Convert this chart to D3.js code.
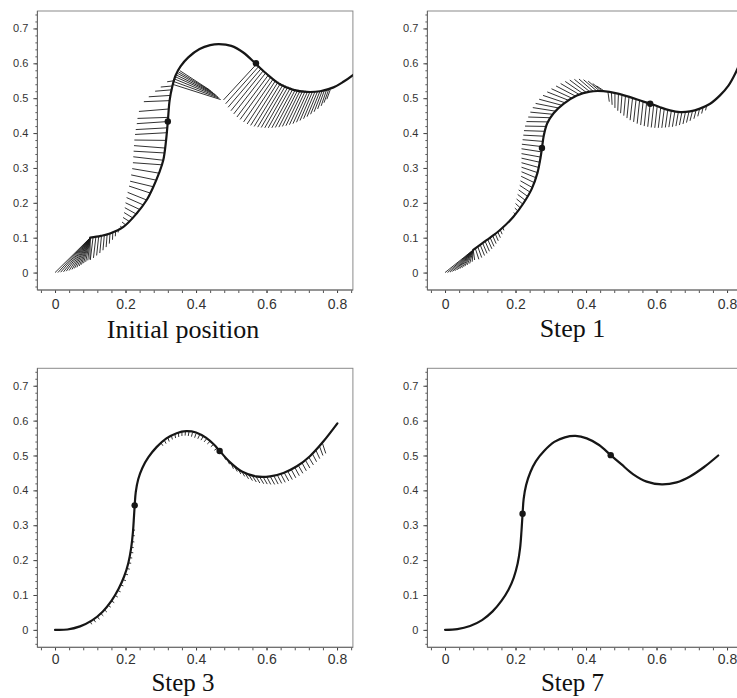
<!DOCTYPE html>
<meta charset="utf-8">
<style>
body { margin: 0; background: #fff; }
svg { font-family: "Liberation Sans", Arial, sans-serif; }
.title { font-family: "Liberation Serif", "Times New Roman", serif; fill: #111; }
</style>
<svg width="737" height="698"></svg>
<script src="https://cdn.jsdelivr.net/npm/d3@7"></script>
<script>
// tick labels
var xMajor = [0, 0.2, 0.4, 0.6, 0.8];
var yMajor = [0, 0.1, 0.2, 0.3, 0.4, 0.5, 0.6, 0.7];
var titles = ["Initial position", "Step 1", "Step 3", "Step 7"];

// rod shape in each panel [x, y]
var curve0 = [[0.100,0.100],[0.130,0.105],[0.156,0.112],[0.194,0.131],[0.232,0.170],[0.260,0.208],[0.279,0.246],[0.295,0.285],[0.307,0.322],[0.315,0.379],[0.320,0.433],[0.325,0.493],[0.333,0.535],[0.342,0.565],[0.356,0.591],[0.378,0.617],[0.410,0.641],[0.440,0.652],[0.465,0.655],[0.500,0.650],[0.534,0.631],[0.570,0.598],[0.600,0.570],[0.638,0.540],[0.676,0.524],[0.714,0.518],[0.752,0.520],[0.790,0.531],[0.818,0.547],[0.845,0.566],[0.870,0.588]];
var curve1 = [[0.080,0.065],[0.118,0.093],[0.156,0.122],[0.194,0.160],[0.222,0.198],[0.246,0.240],[0.262,0.285],[0.271,0.330],[0.275,0.357],[0.280,0.392],[0.290,0.428],[0.308,0.457],[0.336,0.484],[0.374,0.508],[0.411,0.519],[0.449,0.520],[0.487,0.514],[0.525,0.503],[0.563,0.490],[0.584,0.484],[0.610,0.474],[0.638,0.465],[0.667,0.460],[0.695,0.462],[0.723,0.470],[0.752,0.484],[0.780,0.508],[0.804,0.536],[0.823,0.570],[0.840,0.610]];
var curve3 = [[0.000,0.000],[0.035,0.001],[0.071,0.010],[0.105,0.027],[0.135,0.052],[0.160,0.083],[0.180,0.117],[0.196,0.153],[0.208,0.192],[0.216,0.235],[0.221,0.280],[0.224,0.325],[0.226,0.357],[0.229,0.395],[0.236,0.432],[0.248,0.465],[0.265,0.495],[0.288,0.524],[0.316,0.549],[0.345,0.564],[0.372,0.570],[0.400,0.566],[0.428,0.551],[0.450,0.532],[0.468,0.512],[0.496,0.481],[0.530,0.454],[0.570,0.440],[0.610,0.440],[0.648,0.450],[0.686,0.469],[0.723,0.498],[0.761,0.540],[0.801,0.592]];
var curve7 = [[0.000,0.000],[0.035,0.002],[0.071,0.011],[0.105,0.028],[0.135,0.053],[0.160,0.083],[0.180,0.115],[0.195,0.150],[0.206,0.190],[0.213,0.235],[0.217,0.285],[0.220,0.333],[0.223,0.375],[0.230,0.415],[0.242,0.452],[0.258,0.484],[0.281,0.513],[0.310,0.539],[0.340,0.552],[0.370,0.556],[0.402,0.549],[0.437,0.530],[0.470,0.501],[0.500,0.475],[0.534,0.446],[0.572,0.425],[0.615,0.417],[0.657,0.423],[0.695,0.440],[0.735,0.467],[0.775,0.500]];

// marked points
var dots0 = [[0.320,0.433],[0.570,0.600]];
var dots1 = [[0.275,0.357],[0.582,0.484]];
var dots3 = [[0.226,0.357],[0.467,0.513]];
var dots7 = [[0.220,0.333],[0.470,0.501]];

// displacement hatches [x from, y from, x to, y to]
var hatch0 = [
  [0.1,0.1,0.000,0.000],[0.1,0.1,0.008,0.000],[0.1,0.1,0.016,0.001],[0.1,0.1,0.024,0.002],[0.1,0.1,0.032,0.004],
  [0.1,0.1,0.040,0.006],[0.1,0.1,0.048,0.009],[0.1,0.1,0.055,0.012],[0.1,0.1,0.062,0.015],[0.1,0.1,0.069,0.019],
  [0.1,0.1,0.075,0.023],[0.1,0.1,0.081,0.027],[0.1,0.1,0.087,0.031],[0.1,0.1,0.093,0.035],[0.1,0.1,0.099,0.038],
  [0.108,0.102,0.100,0.036],[0.116,0.103,0.109,0.042],[0.124,0.105,0.118,0.049],[0.132,0.107,0.127,0.056],
  [0.140,0.109,0.136,0.064],[0.148,0.111,0.145,0.073],[0.156,0.114,0.154,0.083],[0.164,0.117,0.163,0.094],
  [0.172,0.121,0.171,0.104],[0.180,0.125,0.179,0.115],
  [0.190,0.129,0.185,0.133],[0.200,0.137,0.190,0.145],[0.210,0.147,0.193,0.158],[0.220,0.157,0.196,0.172],
  [0.230,0.168,0.198,0.186],[0.240,0.181,0.200,0.200],[0.250,0.194,0.203,0.215],[0.260,0.208,0.206,0.230],
  [0.270,0.228,0.210,0.248],[0.279,0.246,0.213,0.262],[0.287,0.265,0.216,0.280],[0.295,0.285,0.219,0.298],
  [0.303,0.309,0.221,0.315],[0.307,0.322,0.222,0.332],[0.310,0.343,0.223,0.348],[0.312,0.357,0.224,0.364],
  [0.315,0.379,0.225,0.380],[0.317,0.401,0.227,0.396],[0.318,0.415,0.229,0.410],[0.320,0.433,0.232,0.427],
  [0.321,0.445,0.234,0.442],[0.323,0.469,0.238,0.462],[0.325,0.493,0.252,0.490],[0.328,0.508,0.266,0.504],
  [0.331,0.524,0.284,0.520],[0.333,0.535,0.300,0.532],[0.337,0.550,0.318,0.547],
  [0.333,0.540,0.470,0.496],[0.336,0.548,0.466,0.500],[0.339,0.555,0.462,0.504],[0.342,0.561,0.458,0.508],
  [0.345,0.566,0.453,0.512],[0.348,0.571,0.448,0.516],[0.351,0.575,0.443,0.520],[0.354,0.579,0.438,0.524],
  [0.570,0.596,0.478,0.495],[0.577,0.590,0.484,0.484],[0.584,0.584,0.491,0.474],[0.591,0.579,0.499,0.464],
  [0.598,0.573,0.507,0.455],[0.605,0.566,0.516,0.446],[0.612,0.560,0.525,0.439],[0.619,0.555,0.535,0.432],
  [0.626,0.551,0.545,0.426],[0.633,0.547,0.555,0.422],[0.640,0.543,0.565,0.419],[0.647,0.539,0.575,0.417],
  [0.654,0.536,0.585,0.416],[0.661,0.533,0.595,0.415],[0.668,0.530,0.605,0.415],[0.675,0.527,0.615,0.415],
  [0.682,0.525,0.625,0.416],[0.689,0.524,0.635,0.417],[0.696,0.523,0.645,0.419],[0.703,0.522,0.655,0.421],
  [0.710,0.521,0.665,0.424],[0.717,0.520,0.675,0.427],[0.724,0.520,0.685,0.431],[0.731,0.520,0.695,0.436],
  [0.738,0.520,0.705,0.441],[0.745,0.520,0.715,0.447],[0.752,0.521,0.725,0.454],[0.758,0.521,0.735,0.461],
  [0.764,0.522,0.745,0.469],[0.770,0.523,0.755,0.478],[0.776,0.524,0.763,0.487],[0.781,0.525,0.771,0.497]
];
var hatch1 = [
  [0.08,0.065,0.000,0.000],[0.08,0.065,0.007,0.000],[0.08,0.065,0.014,0.001],[0.08,0.065,0.021,0.003],
  [0.08,0.065,0.028,0.005],[0.08,0.065,0.035,0.008],[0.08,0.065,0.042,0.011],[0.08,0.065,0.049,0.014],
  [0.08,0.065,0.056,0.018],[0.08,0.065,0.063,0.022],[0.08,0.065,0.070,0.026],[0.08,0.065,0.077,0.031],
  [0.08,0.065,0.084,0.036],
  [0.086,0.069,0.096,0.038],[0.093,0.074,0.104,0.043],[0.100,0.079,0.112,0.049],[0.107,0.084,0.119,0.055],
  [0.114,0.089,0.126,0.061],[0.121,0.095,0.133,0.068],[0.128,0.100,0.139,0.075],[0.135,0.106,0.145,0.083],
  [0.142,0.112,0.151,0.091],[0.149,0.118,0.157,0.100],[0.156,0.124,0.162,0.110],[0.163,0.131,0.167,0.121],
  [0.200,0.167,0.195,0.172],[0.207,0.176,0.198,0.185],[0.214,0.185,0.200,0.198],[0.221,0.196,0.203,0.211],
  [0.228,0.207,0.206,0.224],[0.235,0.218,0.209,0.237],[0.242,0.230,0.212,0.250],[0.249,0.243,0.214,0.263],
  [0.255,0.257,0.216,0.276],[0.260,0.271,0.217,0.289],[0.264,0.286,0.217,0.302],[0.267,0.301,0.217,0.315],
  [0.270,0.316,0.217,0.328],[0.272,0.331,0.217,0.341],[0.274,0.346,0.217,0.355],[0.276,0.361,0.218,0.368],
  [0.278,0.376,0.220,0.381],[0.280,0.391,0.222,0.394],[0.283,0.405,0.224,0.407],[0.286,0.419,0.227,0.420],
  [0.291,0.432,0.231,0.433],[0.297,0.444,0.236,0.446],[0.304,0.454,0.242,0.460],[0.312,0.463,0.249,0.473],
  [0.321,0.472,0.257,0.485],[0.330,0.480,0.267,0.497],[0.340,0.487,0.278,0.508],[0.350,0.494,0.290,0.518],
  [0.360,0.500,0.302,0.527],[0.370,0.506,0.315,0.535],[0.380,0.511,0.328,0.542],[0.390,0.514,0.341,0.548],
  [0.400,0.517,0.354,0.552],[0.410,0.519,0.367,0.554],[0.420,0.520,0.380,0.555],[0.430,0.521,0.393,0.553],
  [0.438,0.521,0.406,0.549],[0.445,0.521,0.419,0.542],[0.451,0.521,0.430,0.535],
  [0.462,0.519,0.466,0.490],[0.472,0.517,0.474,0.481],[0.482,0.515,0.482,0.472],[0.492,0.513,0.490,0.464],
  [0.502,0.510,0.498,0.457],[0.512,0.507,0.507,0.450],[0.522,0.504,0.516,0.443],[0.532,0.501,0.525,0.437],
  [0.542,0.497,0.535,0.432],[0.552,0.494,0.545,0.427],[0.562,0.491,0.555,0.423],[0.572,0.488,0.565,0.420],
  [0.582,0.485,0.575,0.418],[0.592,0.481,0.585,0.416],[0.602,0.478,0.595,0.415],[0.612,0.474,0.605,0.415],
  [0.622,0.470,0.615,0.415],[0.632,0.467,0.625,0.416],[0.642,0.464,0.635,0.417],[0.652,0.462,0.645,0.418],
  [0.662,0.461,0.655,0.420],[0.672,0.460,0.665,0.423],[0.682,0.460,0.675,0.426],[0.692,0.461,0.685,0.430],
  [0.702,0.463,0.695,0.435],[0.712,0.465,0.706,0.441],[0.722,0.469,0.717,0.448],[0.732,0.473,0.728,0.456],
  [0.742,0.478,0.739,0.465]
];
var hatch3 = [
  [0.100,0.024,0.104,0.016],[0.110,0.030,0.115,0.022],[0.120,0.038,0.126,0.030],[0.130,0.047,0.137,0.040],
  [0.140,0.058,0.147,0.051],[0.150,0.071,0.158,0.065],[0.160,0.083,0.168,0.078],[0.170,0.099,0.178,0.094],
  [0.178,0.113,0.186,0.109],[0.186,0.129,0.194,0.126],[0.193,0.144,0.201,0.141],[0.199,0.160,0.207,0.158],
  [0.204,0.176,0.212,0.174],[0.208,0.192,0.216,0.191],[0.211,0.207,0.219,0.206],[0.214,0.222,0.222,0.221],
  [0.216,0.237,0.223,0.236],[0.218,0.253,0.225,0.252],[0.220,0.270,0.226,0.270],[0.221,0.286,0.227,0.286],
  [0.300,0.537,0.306,0.528],[0.310,0.544,0.315,0.534],[0.320,0.551,0.324,0.540],[0.330,0.557,0.333,0.546],
  [0.340,0.561,0.342,0.550],[0.350,0.565,0.351,0.553],[0.360,0.568,0.360,0.556],[0.370,0.569,0.369,0.557],
  [0.380,0.568,0.378,0.556],[0.390,0.566,0.387,0.554],[0.400,0.563,0.396,0.551],[0.410,0.559,0.405,0.548],
  [0.420,0.554,0.414,0.544],[0.430,0.548,0.423,0.539],[0.440,0.541,0.432,0.533],[0.450,0.532,0.442,0.525],
  [0.460,0.521,0.452,0.515],
  [0.480,0.497,0.484,0.488],[0.490,0.486,0.495,0.475],[0.500,0.476,0.506,0.462],[0.510,0.467,0.517,0.454],
  [0.520,0.460,0.527,0.447],[0.530,0.454,0.538,0.440],[0.540,0.448,0.549,0.433],[0.550,0.444,0.560,0.428],
  [0.560,0.441,0.571,0.424],[0.570,0.440,0.581,0.421],[0.580,0.439,0.592,0.419],[0.590,0.439,0.602,0.418],
  [0.600,0.440,0.612,0.417],[0.610,0.441,0.623,0.417],[0.620,0.443,0.633,0.418],[0.630,0.445,0.643,0.420],
  [0.640,0.448,0.653,0.423],[0.650,0.451,0.663,0.427],[0.660,0.455,0.673,0.431],[0.670,0.460,0.683,0.436],
  [0.680,0.466,0.693,0.442],[0.690,0.472,0.703,0.449],[0.700,0.480,0.713,0.456],[0.710,0.487,0.723,0.464],
  [0.720,0.495,0.733,0.473],[0.730,0.505,0.742,0.482],[0.740,0.515,0.751,0.491],[0.750,0.527,0.760,0.500],
  [0.758,0.537,0.768,0.506]
];
var hatch7 = [];

// layout of the 2x2 grid
var panels = [
  { ox: 37.4,  oy: 11,    tx: 183,   ty: 338, fs: 26, pad: 6, curve: curve0, dots: dots0, hatch: hatch0 },
  { ox: 427.4, oy: 11,    tx: 572.5, ty: 337, fs: 26, pad: 6, curve: curve1, dots: dots1, hatch: hatch1 },
  { ox: 37.4,  oy: 368.3, tx: 183,   ty: 691, fs: 25, pad: 4, curve: curve3, dots: dots3, hatch: hatch3 },
  { ox: 427.4, oy: 368.3, tx: 572.5, ty: 691, fs: 25, pad: 4, curve: curve7, dots: dots7, hatch: hatch7 }
];

var pw = 315.5, ph = 279;
var svg = d3.select("svg");

var x = d3.scaleLinear().domain([-0.05, 0.845]).range([0, pw]);
var y = d3.scaleLinear().domain([-0.05, 0.75]).range([ph, 0]);

var xMinor = d3.range(-0.04, 0.845, 0.04);
var yMinor = d3.range(-0.04, 0.75, 0.02);

var line = d3.line()
    .x(function(d) { return x(d[0]); })
    .y(function(d) { return y(d[1]); })
    .curve(d3.curveCatmullRom.alpha(0.5));

var fmt = function(d) { return d === 0 ? "0" : d3.format(".1f")(d); };

panels.forEach(function(p, i) {
  var g = svg.append("g").attr("transform", "translate(" + p.ox + "," + p.oy + ")");

  g.append("clipPath").attr("id", "clip" + i)
    .append("rect").attr("width", pw).attr("height", ph);

  // minor ticks
  g.append("g").call(d3.axisLeft(y).tickValues(yMinor).tickSize(2).tickFormat(""))
    .call(function(a) { a.select(".domain").remove(); a.selectAll("line").attr("stroke", "#555"); });
  g.append("g").attr("transform", "translate(0," + ph + ")")
    .call(d3.axisBottom(x).tickValues(xMinor).tickSize(3).tickFormat(""))
    .call(function(a) { a.select(".domain").remove(); a.selectAll("line").attr("stroke", "#555"); });

  // major ticks + labels
  g.append("g").call(d3.axisLeft(y).tickValues(yMajor).tickSize(4).tickPadding(5).tickFormat(fmt))
    .call(function(a) {
      a.select(".domain").remove();
      a.selectAll("line").attr("stroke", "#444");
      a.selectAll("text").attr("fill", "#333").style("font-size", "11px");
    });
  g.append("g").attr("transform", "translate(0," + ph + ")")
    .call(d3.axisBottom(x).tickValues(xMajor).tickSize(3).tickPadding(p.pad).tickFormat(fmt))
    .call(function(a) {
      a.select(".domain").remove();
      a.selectAll("line").attr("stroke", "#444");
      a.selectAll("text").attr("fill", "#333").style("font-size", "14px");
    });

  // frame
  g.append("rect").attr("width", pw).attr("height", ph)
    .attr("fill", "none").attr("stroke", "#8a8a8a").attr("stroke-width", 1);
  g.append("line").attr("x1", 0).attr("x2", 0).attr("y1", 0).attr("y2", ph)
    .attr("stroke", "#666");
  g.append("line").attr("x1", 0).attr("x2", pw).attr("y1", ph).attr("y2", ph)
    .attr("stroke", "#666");

  var plot = g.append("g").attr("clip-path", "url(#clip" + i + ")");

  plot.selectAll("line.h")
    .data(p.hatch)
    .enter().append("line")
      .attr("class", "h")
      .attr("x1", function(d) { return x(d[0]); })
      .attr("y1", function(d) { return y(d[1]); })
      .attr("x2", function(d) { return x(d[2]); })
      .attr("y2", function(d) { return y(d[3]); })
      .attr("stroke", "#1a1a1a")
      .attr("stroke-width", 0.9);

  plot.append("path")
    .datum(p.curve)
    .attr("d", line)
    .attr("fill", "none")
    .attr("stroke", "#161616")
    .attr("stroke-width", 2.2)
    .attr("stroke-linecap", "round");

  plot.selectAll("circle")
    .data(p.dots)
    .enter().append("circle")
      .attr("cx", function(d) { return x(d[0]); })
      .attr("cy", function(d) { return y(d[1]); })
      .attr("r", 3.2)
      .attr("fill", "#161616");

  svg.append("text")
    .attr("class", "title")
    .attr("x", p.tx)
    .attr("y", p.ty)
    .attr("text-anchor", "middle")
    .style("font-size", p.fs + "px")
    .text(titles[i]);
});
</script>
